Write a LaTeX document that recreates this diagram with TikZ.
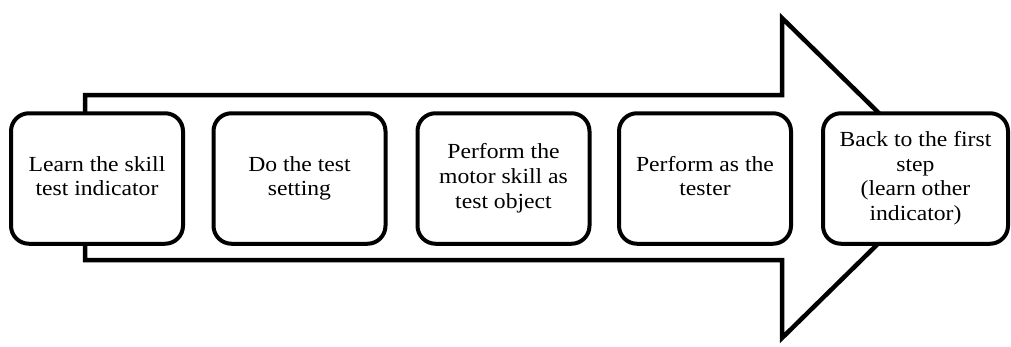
\documentclass[tikz,border=0pt]{standalone}
\usepackage{fontspec}
\usepackage{graphicx}
\setmainfont{Liberation Serif}
% widened multi-line label
\newcommand\widelines[1]{\scalebox{1.1}[1]{\begin{tabular}{@{}c@{}}#1\end{tabular}}}
\begin{document}
\begin{tikzpicture}[x=1pt,y=-1pt,
  bigarrow/.style={draw, line width=4.5pt, fill=white, line join=miter},
  stepbox/.style={draw, line width=4pt, rounded corners=18pt, fill=white,
    minimum width=172pt, minimum height=130.5pt, inner sep=0pt,
    font=\fontsize{21.5}{24.8}\selectfont}]
  \useasboundingbox (0,0) rectangle (1011,346);
  % block arrow behind the steps
  \draw[bigarrow] (85,95) -- (782,95) -- (782,18) -- (945,178)
    -- (782,338) -- (782,260) -- (85,260) -- cycle;
  % the five steps
  \node[stepbox] (b1) at (97,178.5) {\widelines{Learn the skill\\test indicator}};
  \node[stepbox] (b2) at (299.5,178.5) {\widelines{Do the test\\setting}};
  \node[stepbox] (b3) at (503.5,178.5) {\widelines{Perform the\\motor skill as\\test object}};
  \node[stepbox] (b4) at (705,178.5) {\widelines{Perform as the\\tester}};
  \node[stepbox, minimum width=185pt] (b5) at (915.5,178.5)
    {\widelines{Back to the first\\step\\(learn other\\indicator)}};
\end{tikzpicture}
\end{document}
